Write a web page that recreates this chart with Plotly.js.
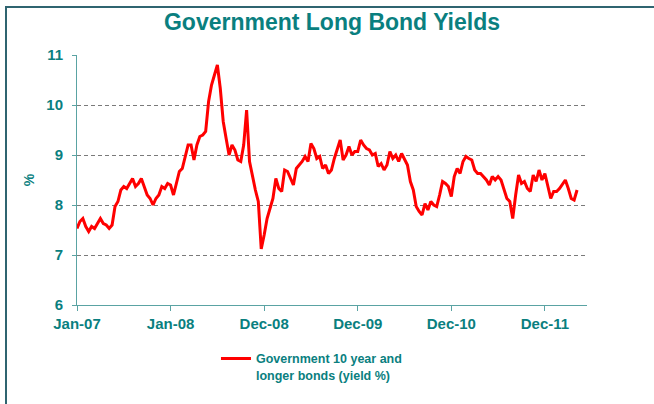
<!DOCTYPE html>
<html>
<head>
<meta charset="utf-8">
<script src="https://cdn.plot.ly/plotly-3.0.1.min.js"></script>
<style>
html,body{margin:0;padding:0;background:#fff;overflow:hidden;}
#wrap{position:relative;width:654px;height:404px;}
#frame{position:absolute;left:5px;top:6px;width:700px;height:450px;border:2px solid #2f6470;box-sizing:border-box;pointer-events:none;}
#chart{position:absolute;left:0;top:0;width:654px;height:404px;}
</style>
</head>
<body>
<div id="wrap"><div id="chart"></div><div id="frame"></div></div>
<script>
// Tick labels on the category (time) axis, one every 32 periods
const tickLabels = ["Jan-07", "Jan-08", "Dec-08", "Dec-09", "Dec-10", "Dec-11"];
const tickPositions = [0, 32, 64, 96, 128, 160];
// Government 10 year and longer bonds (yield %)
const yields = [
  7.53, 7.67, 7.73, 7.57, 7.47, 7.57, 7.53, 7.63, 7.73, 7.63,
  7.60, 7.53, 7.60, 7.97, 8.07, 8.30, 8.37, 8.33, 8.43, 8.53,
  8.37, 8.43, 8.53, 8.37, 8.20, 8.13, 8.00, 8.13, 8.20, 8.37,
  8.33, 8.43, 8.40, 8.20, 8.43, 8.67, 8.73, 9.00, 9.20, 9.20,
  8.90, 9.20, 9.37, 9.40, 9.47, 10.07, 10.40, 10.60, 10.80, 10.33,
  9.67, 9.33, 9.00, 9.20, 9.10, 8.90, 8.87, 9.20, 9.90, 8.87,
  8.55, 8.30, 8.07, 7.12, 7.40, 7.73, 7.93, 8.13, 8.53, 8.33,
  8.27, 8.70, 8.67, 8.53, 8.40, 8.73, 8.80, 8.87, 8.97, 8.87,
  9.23, 9.13, 8.93, 8.97, 8.73, 8.80, 8.63, 8.70, 8.93, 9.13,
  9.30, 8.90, 9.00, 9.17, 9.00, 9.07, 9.07, 9.30, 9.20, 9.13,
  9.10, 9.00, 9.03, 8.77, 8.83, 8.70, 8.80, 9.07, 8.93, 9.00,
  8.87, 9.03, 8.93, 8.80, 8.47, 8.30, 7.97, 7.87, 7.80, 8.03,
  7.90, 8.07, 8.00, 7.97, 8.20, 8.47, 8.43, 8.37, 8.17, 8.57,
  8.73, 8.63, 8.87, 8.97, 8.93, 8.90, 8.70, 8.63, 8.63, 8.57,
  8.50, 8.40, 8.57, 8.50, 8.57, 8.50, 8.33, 8.13, 8.07, 7.73,
  8.20, 8.60, 8.43, 8.47, 8.33, 8.27, 8.60, 8.47, 8.70, 8.50,
  8.63, 8.40, 8.13, 8.27, 8.27, 8.33, 8.43, 8.50, 8.33, 8.13,
  8.10, 8.30
];
const periods = yields.map((_, i) => i);

const teal = "#0a7f7f";
const axisCol = "#5aa3a3";

const trace = {
  x: periods,
  y: yields,
  type: "scatter",
  mode: "lines",
  name: "Government 10 year and<br>longer bonds (yield %)",
  line: {color: "#ff0000", width: 3},
  hoverinfo: "skip"
};

const layout = {
  width: 654,
  height: 404,
  margin: {l: 77, r: 67, t: 55, b: 99, pad: 0},
  paper_bgcolor: "rgba(0,0,0,0)",
  plot_bgcolor: "#ffffff",
  font: {family: "Arial, 'Liberation Sans', sans-serif", color: teal},
  title: {
    text: "<b>Government Long Bond Yields</b>",
    font: {family: "Arial, 'Liberation Sans', sans-serif", size: 23, color: teal},
    x: 0.5, xanchor: "center", xref: "paper",
    y: 0.945, yanchor: "middle", yref: "container"
  },
  showlegend: true,
  legend: {
    x: 0.2725, xanchor: "left",
    y: -0.155, yanchor: "top",
    valign: "top",
    bgcolor: "rgba(0,0,0,0)",
    font: {family: "Arial, 'Liberation Sans', sans-serif", size: 12.5, color: teal, weight: "bold"},
    itemwidth: 30
  },
  xaxis: {
    type: "linear",
    range: [0, 174.4],
    tickmode: "array",
    tickvals: tickPositions,
    ticktext: tickLabels.map(t => "<b>" + t + "</b>"),
    ticks: "outside",
    ticklen: 5,
    tickcolor: axisCol,
    showgrid: false,
    zeroline: false,
    showline: true,
    linecolor: axisCol,
    linewidth: 1,
    tickfont: {size: 15, color: teal},
    fixedrange: true
  },
  yaxis: {
    range: [6, 11],
    tickmode: "array",
    tickvals: [6, 7, 8, 9, 10, 11],
    ticktext: ["<b>6</b>", "<b>7</b>", "<b>8</b>", "<b>9</b>", "<b>10</b>", "<b>11</b>"],
    ticks: "outside",
    ticklen: 4,
    tickcolor: axisCol,
    ticklabelstandoff: 6,
    showgrid: true,
    gridcolor: "#7a7a7a",
    griddash: "4px,3px",
    gridwidth: 1,
    zeroline: false,
    showline: true,
    linecolor: axisCol,
    linewidth: 1,
    tickfont: {size: 15, color: teal},
    title: {text: "<b>%</b>", font: {size: 14, color: teal}, standoff: 8},
    fixedrange: true
  }
};

Plotly.newPlot("chart", [trace], layout, {displayModeBar: false, staticPlot: true});
</script>
</body>
</html>
